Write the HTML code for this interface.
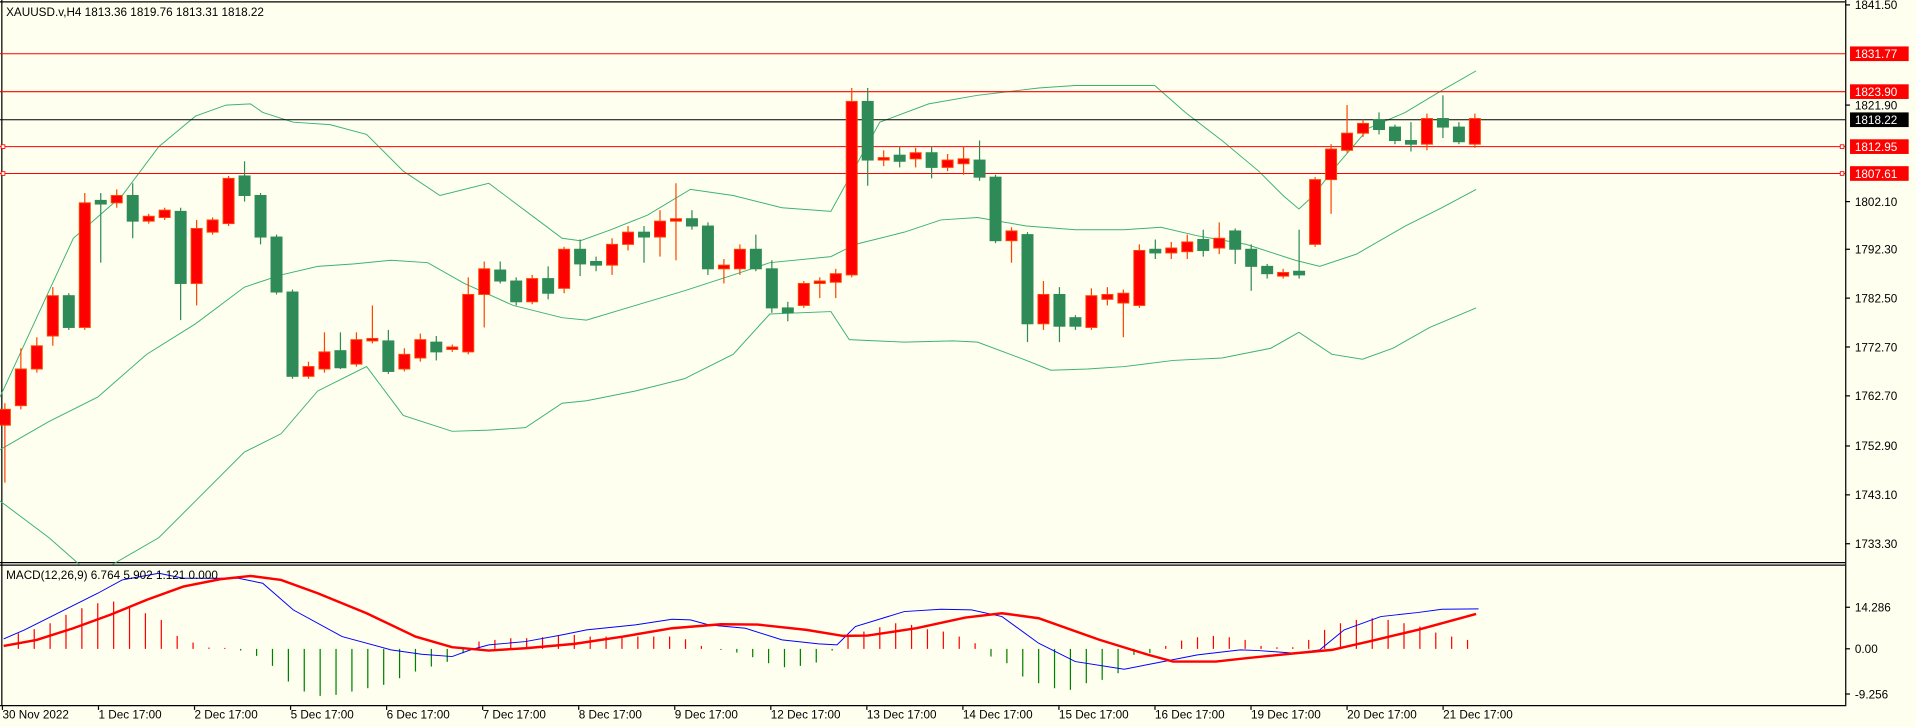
<!DOCTYPE html>
<html><head><meta charset="utf-8"><style>
html,body{margin:0;padding:0;background:#fffff0;}
svg{display:block}
text{font-family:"Liberation Sans",sans-serif;font-size:9.6px;fill:#000}
</style></head><body>
<svg id="c" width="1916" height="727" viewBox="0 0 1568 595" preserveAspectRatio="none" xmlns="http://www.w3.org/2000/svg">
<rect x="0" y="0" width="1568" height="595" fill="#fffff0"/>
<g id="g"></g>
</svg>
<script>
const g=document.getElementById('g');let h='';
const P=(pts,c,w)=>`<polyline fill="none" stroke="${c}" stroke-width="${w}" points="${pts.map(p=>p.join(',')).join(' ')}"/>`;
// frame
h+=`<line x1="1.5" y1="0" x2="1.5" y2="578" stroke="#000" stroke-width="1"/>`;
h+=`<line x1="0" y1="1.5" x2="1510" y2="1.5" stroke="#000"/>`;
h+=`<line x1="1510.5" y1="0" x2="1510.5" y2="578" stroke="#000"/>`;
h+=`<line x1="0" y1="460.5" x2="1510" y2="460.5" stroke="#000"/>`;
h+=`<line x1="0" y1="462.5" x2="1510" y2="462.5" stroke="#000"/>`;
h+=`<line x1="0" y1="577.5" x2="1510" y2="577.5" stroke="#000"/>`;
// bands
const up=[[0,325],[30,260],[60,195],[100,160],[130,120],[160,95],[185,86],[205,85],[215,92],[240,100],[270,102],[300,110],[330,140],[360,160],[400,150],[420,165],[440,180],[460,195],[475,197],[500,188],[530,176],[565,155],[600,160],[640,170],[680,173],[720,100],[760,85],[800,78],[850,72],[880,70],[920,70],[945,70],[970,92],[1000,115],[1030,140],[1050,160],[1063,171],[1075,160],[1090,140],[1120,105],[1150,92],[1180,74],[1208,58]];
const mid=[[0,368],[40,345],[80,325],[120,290],[160,265],[200,235],[230,225],[260,218],[290,216],[320,213],[350,215],[380,232],[420,250],[460,260],[480,262],[520,250],[560,238],[600,225],[630,215],[680,210],[700,200],[740,190],[770,180],[800,178],[840,185],[880,188],[920,188],[950,186],[980,193],[1020,200],[1060,213],[1080,218],[1110,208],[1150,185],[1180,170],[1208,155]];
const lo=[[0,410],[40,440],[65,462]];
const lo2=[[92,462],[130,440],[160,410],[200,370],[230,355],[260,320],[300,300],[330,340],[370,353],[400,352],[430,350],[460,330],[480,328],[520,320],[560,310],[600,290],[630,257],[680,255],[695,278],[740,280],[780,279],[800,280],[840,295],[860,303],[890,302],[920,300],[960,295],[1000,293],[1040,285],[1063,272],[1090,290],[1115,294],[1140,285],[1170,268],[1208,252]];
[up,mid,lo,lo2].forEach(a=>h+=P(a,'#3cb371',0.8));
// horizontal lines
[[44,'#f00'],[75,'#f00'],[120,'#f00'],[142,'#f00'],[98,'#000']].forEach(([y,c])=>h+=`<line x1="0" y1="${y}" x2="1510" y2="${y}" stroke="${c}" stroke-width="0.9"/>`);
[120,142].forEach(y=>{h+=`<rect x="1" y="${y-1.5}" width="3" height="3" fill="#fff" stroke="#f00" stroke-width="0.7"/><rect x="1506" y="${y-1.5}" width="3" height="3" fill="#fff" stroke="#f00" stroke-width="0.7"/>`});
// candles [type(1 red bull,0 green bear), top, bottom, high, low]
const C=[[1,335,348,330,395],[1,302,332,285,335],[1,283,302,276,305],[1,242,275,235,283],[0,242,268,240,270],[1,166,268,158,270],[0,164,167,158,215],[1,160,166,155,170],[0,160,181,150,195],[1,177,181,175,183],[1,172,178,170,180],[0,173,232,170,262],[1,187,232,180,250],[1,180,190,178,192],[1,146,183,144,185],[0,144,160,132,165],[0,160,194,158,200],[0,194,239,192,241],[0,239,308,237,310],[1,300,308,296,310],[1,288,302,272,305],[0,287,301,272,302],[1,278,298,272,300],[1,277,279,250,281],[0,279,304,270,306],[1,290,302,285,304],[1,278,293,273,296],[0,280,288,275,295],[1,284,286,282,288],[1,241,288,227,290],[1,220,241,214,268],[0,221,230,214,232],[0,230,247,227,250],[1,228,247,225,249],[0,228,240,218,245],[1,204,236,202,240],[0,204,216,196,226],[0,214,217,210,222],[1,200,217,195,225],[1,190,200,185,205],[0,190,194,185,215],[1,181,194,172,210],[1,179,181,150,213],[0,179,185,172,188],[0,185,220,182,225],[1,217,220,212,232],[1,204,220,200,225],[0,204,220,192,222],[0,220,252,213,256],[0,252,256,247,263],[1,232,250,230,252],[1,230,232,227,244],[1,224,231,220,244],[1,83,225,72,227],[0,83,131,72,152],[1,129,131,123,136],[0,127,132,120,137],[1,125,130,121,137],[0,125,137,120,146],[1,131,137,126,140],[1,130,134,120,143],[0,131,145,115,148],[0,145,197,143,199],[1,189,197,186,215],[0,192,265,190,280],[1,241,265,230,270],[0,241,267,235,280],[0,260,267,258,270],[1,242,268,236,270],[1,241,245,235,250],[1,240,248,237,276],[1,205,250,200,252],[0,204,207,196,212],[1,203,207,198,212],[1,198,206,192,212],[0,196,205,188,210],[1,195,203,182,208],[0,189,204,187,216],[0,204,218,200,238],[0,218,224,216,228],[1,223,226,220,228],[0,222,225,188,228],[1,147,200,145,202],[1,122,147,118,175],[1,109,123,86,125],[1,101,109,98,112],[0,98,106,92,110],[0,104,115,102,118],[0,115,118,100,124],[1,97,118,93,123],[0,97,104,78,113],[0,104,116,100,118],[1,97,118,93,121]];
const n=C.length, sp=(1207-4)/(n-1);
C.forEach((c,i)=>{const x=4+sp*i;const col=c[0]?'#ff0000':'#2e8b57';const wc=c[0]?'#ff4500':'#2e8b57';
h+=`<line x1="${x}" y1="${c[3]}" x2="${x}" y2="${c[4]}" stroke="${wc}" stroke-width="1"/>`;
h+=`<rect x="${x-4.5}" y="${c[1]}" width="9" height="${Math.max(1.5,c[2]-c[1])}" fill="${col}" stroke="${wc}" stroke-width="0.8"/>`;});
// MACD
const Y=z=>441.9+z*0.2727;
const hb=[[15,280],[28,268],[41,250],[54,225],[67,205],[80,190],[93,185],[106,200],[119,220],[132,240],[145,288],[158,308],[171,323],[184,324],[197,332],[210,348],[223,378],[236,425],[249,455],[262,468],[275,465],[288,455],[301,445],[314,435],[327,415],[340,395],[353,380],[366,366],[379,340],[392,305],[405,300],[418,295],[431,295],[444,292],[457,288],[470,285],[483,290],[496,290],[509,290],[522,290],[535,290],[548,290],[561,298],[574,318],[590,330],[603,338],[616,352],[629,370],[642,382],[655,378],[668,368],[681,332],[694,290],[707,275],[720,262],[733,250],[746,255],[759,268],[772,275],[785,290],[798,310],[811,350],[824,370],[837,410],[850,430],[863,445],[876,450],[889,430],[902,420],[915,400],[928,345],[941,340],[954,318],[967,302],[980,292],[993,288],[1006,292],[1019,300],[1032,318],[1045,322],[1058,322],[1071,300],[1084,270],[1097,250],[1110,240],[1123,235],[1136,240],[1149,250],[1162,260],[1175,278],[1188,290],[1201,300]];
hb.forEach(([x,z])=>{const c=z<327?'#ff0000':'#008000';h+=`<line x1="${x}" y1="${Y(327)}" x2="${x}" y2="${Y(z)}" stroke="${c}" stroke-width="1"/>`});
const bl=[[3,297],[20,270],[50,215],[80,160],[100,120],[130,100],[150,115],[195,115],[215,130],[240,210],[280,290],[320,330],[345,343],[370,350],[385,330],[400,315],[430,305],[460,285],[480,270],[520,255],[550,238],[565,240],[580,255],[610,265],[640,300],[670,312],[685,315],[700,260],[740,215],[770,208],[795,210],[820,230],[850,310],[880,365],[920,388],[945,370],[980,345],[1015,330],[1030,332],[1060,340],[1080,330],[1100,270],[1130,230],[1160,218],[1180,208],[1210,207]].map(([x,z])=>[x,Y(z)]);
const rd=[[3,318],[30,300],[60,265],[90,225],[120,180],[150,140],[180,118],[205,108],[230,120],[260,160],[300,220],[340,290],[370,322],[400,332],[430,325],[470,312],[510,290],[550,265],[590,253],[620,254],[660,270],[690,288],[710,287],[750,265],[790,233],[820,220],[850,235],[900,300],[940,345],[960,365],[995,365],[1020,355],[1060,340],[1090,330],[1120,305],[1160,270],[1190,240],[1208,222]].map(([x,z])=>[x,Y(z)]);
h+=P(bl,'#0000ff',0.8);h+=P(rd,'#ff0000',2);
// texts
h+=`<text x="5" y="13">XAUUSD.v,H4  1813.36 1819.76 1813.31 1818.22</text>`;
h+=`<text x="5" y="474">MACD(12,26,9) 6.764 5.902 1.121 0.000</text>`;
[[4,'1841.50'],[86,'1821.90'],[165,'1802.10'],[204,'1792.30'],[244,'1782.50'],[284,'1772.70'],[324,'1762.70'],[365,'1752.90'],[405,'1743.10'],[445,'1733.30'],[497,'14.286'],[531,'0.00'],[568,'-9.256']].forEach(([y,t])=>{h+=`<line x1="1510" y1="${y}" x2="1514" y2="${y}" stroke="#000"/><text x="1518" y="${y+3.5}">${t}</text>`});
[[44,'1831.77','#f00'],[75,'1823.90','#f00'],[98,'1818.22','#000'],[120,'1812.95','#f00'],[142,'1807.61','#f00']].forEach(([y,t,c])=>{h+=`<rect x="1514" y="${y-6}" width="48" height="12" fill="${c}"/><text x="1518" y="${y+3.5}" style="fill:#fff">${t}</text>`});
const dl=['30 Nov 2022','1 Dec 17:00','2 Dec 17:00','5 Dec 17:00','6 Dec 17:00','7 Dec 17:00','8 Dec 17:00','9 Dec 17:00','12 Dec 17:00','13 Dec 17:00','14 Dec 17:00','15 Dec 17:00','16 Dec 17:00','19 Dec 17:00','20 Dec 17:00','21 Dec 17:00'];
dl.forEach((t,i)=>{const x=2+78.6*i;h+=`<line x1="${x}" y1="578" x2="${x}" y2="581" stroke="#000"/><text x="${x}" y="588">${t}</text>`});
g.innerHTML=h;
</script>
</body></html>
